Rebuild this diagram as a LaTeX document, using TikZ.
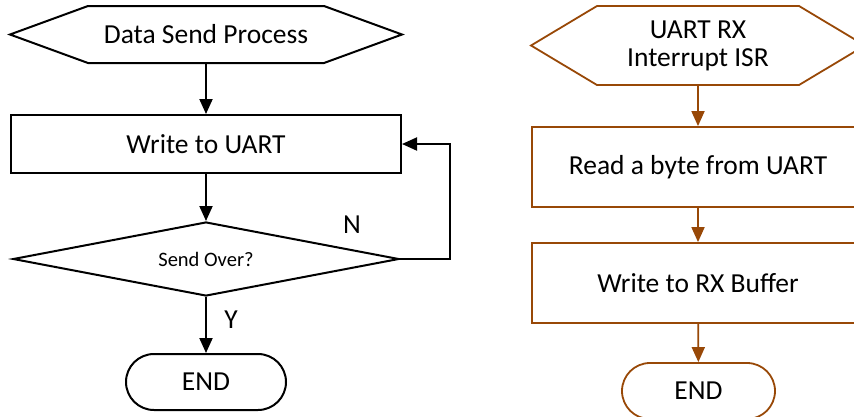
\documentclass[tikz,border=0pt]{standalone}
\usepackage{fontspec}
\setmainfont{Carlito}
\usetikzlibrary{shapes.geometric,shapes.misc,arrows.meta}
\definecolor{rxbrown}{RGB}{152,72,7}
\begin{document}
\begin{tikzpicture}[x=1pt, y=-1pt, line width=2pt, font=\fontsize{27.5}{28}\selectfont,
	hex/.style = {rectangle, inner sep=0pt, minimum width=390pt, minimum height=55pt, align=center},
	box/.style = {draw, rectangle, inner sep=0pt, minimum width=390pt, minimum height=58pt},
	dec/.style = {draw, diamond, aspect=5, inner sep=0pt, minimum width=386pt, minimum height=74pt, font=\fontsize{20.5}{22}\selectfont},
	term/.style = {draw, rounded rectangle, inner sep=0pt, minimum width=160pt, minimum height=56pt},
	arr/.style = {-{Triangle[width=13pt,length=15pt]}},
	rx/.style = {draw=rxbrown, line width=1.8pt}]
		\path[use as bounding box] (0,0) rectangle (854,416);
		\clip (0,0) rectangle (854,416);
		
		% data send process
		\node[hex] (l1) at (206,34.5) {Data Send Process};
		\node[box] (l2) at (206,144) {Write to UART};
		\node[dec] (l3) at (206,259) {Send Over?};
		\node[term] (l4) at (206,382) {END};
		
		\draw ([xshift=78pt]l1.north west) -- ([xshift=-78pt]l1.north east) -- (l1.east) -- ([xshift=-78pt]l1.south east) -- ([xshift=78pt]l1.south west) -- (l1.west) -- cycle;
		
		\node (n) at (352,225) {N};
		\node (y) at (231,320) {Y};
		\coordinate (c) at (450,144);
		
		\draw[arr] (l1) -- (l2);
		\draw[arr] (l2) -- (l3);
		\draw[arr] (l3) -- (l4);
		\draw[arr] (l3.east) -| (c) -- (l2.east);
		
		% uart rx interrupt isr
		\node[hex, minimum width=332pt, minimum height=77pt] (r1) at (698,45.5) {UART RX\\Interrupt ISR};
		\node[box, rx, minimum width=332pt, minimum height=80pt] (r2) at (698,167) {Read a byte from UART};
		\node[box, rx, minimum width=332pt, minimum height=80pt] (r3) at (698,283) {Write to RX Buffer};
		\node[term, rx, minimum width=153pt] (r4) at (698.5,391) {END};
		
		\draw[rx] ([xshift=66pt]r1.north west) -- ([xshift=-66pt]r1.north east) -- (r1.east) -- ([xshift=-66pt]r1.south east) -- ([xshift=66pt]r1.south west) -- (r1.west) -- cycle;
		
		\draw[arr, rx] (r1) -- (r2);
		\draw[arr, rx] (r2) -- (r3);
		\draw[arr, rx] (r3) -- (r4);
		
	\end{tikzpicture}
\end{document}
